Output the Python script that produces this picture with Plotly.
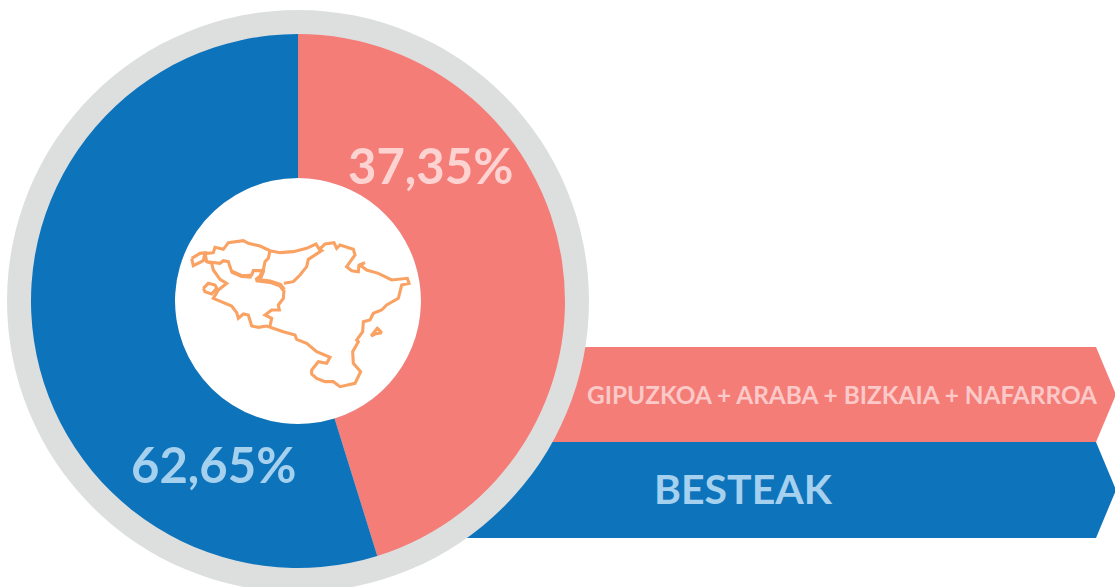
import plotly.graph_objects as go

# Slice sizes as drawn in the picture (printed labels differ from the drawn angles)
slice_names = ["Gipuzkoa + Araba + Bizkaia + Nafarroa", "Besteak"]
slice_values = [45.2, 54.8]
slice_colors = ["#F57D78", "#0D74BC"]
pct_labels = ["37,35%", "62,65%"]
band_labels = ["GIPUZKOA + ARABA + BIZKAIA + NAFARROA", "BESTEAK"]

W, H = 1115, 587
cx, cy, r_out, r_hole, r_ring = 298, 301, 267, 123, 291

outline = [(65,115),(90,100),(108,98),(112,100),(130,98),(135,82),(160,88),(175,68),(220,62),(235,70),(270,78),
 (300,92),(330,98),(370,95),(410,85),(438,72),(448,88),(465,72),(492,68),(500,85),(510,75),(550,88),(555,105),
 (530,140),(545,152),(565,155),(567,135),(585,128),(570,135),(590,150),(625,160),(665,180),(690,178),(712,175),
 (717,190),(695,195),(685,235),(650,255),(635,270),(610,280),(600,300),(580,305),(578,335),(560,360),(565,365),
 (548,395),(550,430),(572,455),(555,490),(510,500),(490,485),(465,485),(440,475),(425,462),(425,450),(445,425),
 (470,430),(480,412),(440,395),(410,370),(380,358),(375,345),(340,335),(290,318),(265,322),(245,318),(235,285),
 (220,282),(205,295),(200,278),(185,258),(130,235),(145,210),(170,190),(150,178),(130,150),(125,130),(110,125),
 (105,100),(100,122),(70,137),(65,115)]
enclave = [(100,205),(115,190),(135,195),(140,205),(125,222),(105,215),(100,205)]
spot = [(603,348),(622,325),(635,338),(615,342),(603,348)]
inner_a = [(300,92),(295,115),(285,125),(280,150),(270,152),(250,152),(245,165),(215,168),(185,155),(175,125),
 (160,122),(150,130),(110,125)]
inner_b = [(342,190),(370,185),(390,165),(410,140),(415,118),(440,100),(455,92),(448,88)]
inner_c = [(342,210),(340,235),(325,255),(328,270),(305,270),(285,285),(305,295),(300,318)]
river = [(280,150),(272,170),(258,180),(300,185),(330,195),(342,210)]
river_b = [(185,155),(215,168),(245,170)]

def mx(p): return [170 + a / 3 for a, _ in p]
def my(p): return [220 + b / 3 for _, b in p]

fig = go.Figure()
for path, width in [(outline, 3.1), (enclave, 3.1), (spot, 3.1), (inner_a, 3.1), (inner_b, 3.1),
                    (inner_c, 3.1), (river, 4.5), (river_b, 4)]:
    fig.add_trace(go.Scatter(x=mx(path), y=my(path), mode="lines", hoverinfo="skip", showlegend=False,
                             line=dict(color="#F9A263", width=width)))

fig.add_trace(go.Pie(
    labels=slice_names, values=slice_values, sort=False, direction="clockwise", rotation=0,
    hole=r_hole / r_out, textinfo="none", showlegend=False,
    marker=dict(colors=slice_colors, line=dict(width=0)),
    domain=dict(x=[(cx - r_out) / W, (cx + r_out) / W],
                y=[1 - (cy + r_out) / H, 1 - (cy - r_out) / H]),
))

def arrow(top, bottom, color):
    mid = (top + bottom) / 2
    return dict(type="path", layer="below", fillcolor=color, line=dict(width=0), xref="x", yref="y",
                path=f"M 400 {top} L 1096 {top} L 1116 {mid} L 1096 {bottom} L 400 {bottom} Z")

def circle(r, color):
    return dict(type="circle", layer="below", fillcolor=color, line=dict(width=0), xref="x", yref="y",
                x0=cx - r, x1=cx + r, y0=cy - r, y1=cy + r)

fig.update_layout(
    width=W, height=H, margin=dict(l=0, r=0, t=0, b=0), autosize=False,
    paper_bgcolor="white", plot_bgcolor="white",
    xaxis=dict(range=[0, W], visible=False, fixedrange=True),
    yaxis=dict(range=[H, 0], visible=False, fixedrange=True),
    shapes=[arrow(347, 442, slice_colors[0]), arrow(442, 538, slice_colors[1]),
            circle(r_ring, "#DDDFDF"), circle(r_hole, "white")],
    annotations=[
        dict(x=430, y=165, text=pct_labels[0], font=dict(family="Lato", size=49, color="#FCD3D1", weight=700)),
        dict(x=213, y=464, text=pct_labels[1], font=dict(family="Lato", size=49, color="#A5D0EE", weight=700)),
        dict(x=842, y=394, text=band_labels[0], font=dict(family="Lato", size=24.4, color="#FBC9C7", weight=700)),
        dict(x=743, y=488, text=band_labels[1], font=dict(family="Lato", size=41, color="#A5D0EE", weight=700)),
    ],
)
for a in fig.layout.annotations:
    a.update(xref="x", yref="y", showarrow=False, xanchor="center", yanchor="middle")

fig.write_html("out.html", config=dict(displayModeBar=False),
               post_script="document.body.style.margin='0';document.documentElement.style.overflow='hidden';")
